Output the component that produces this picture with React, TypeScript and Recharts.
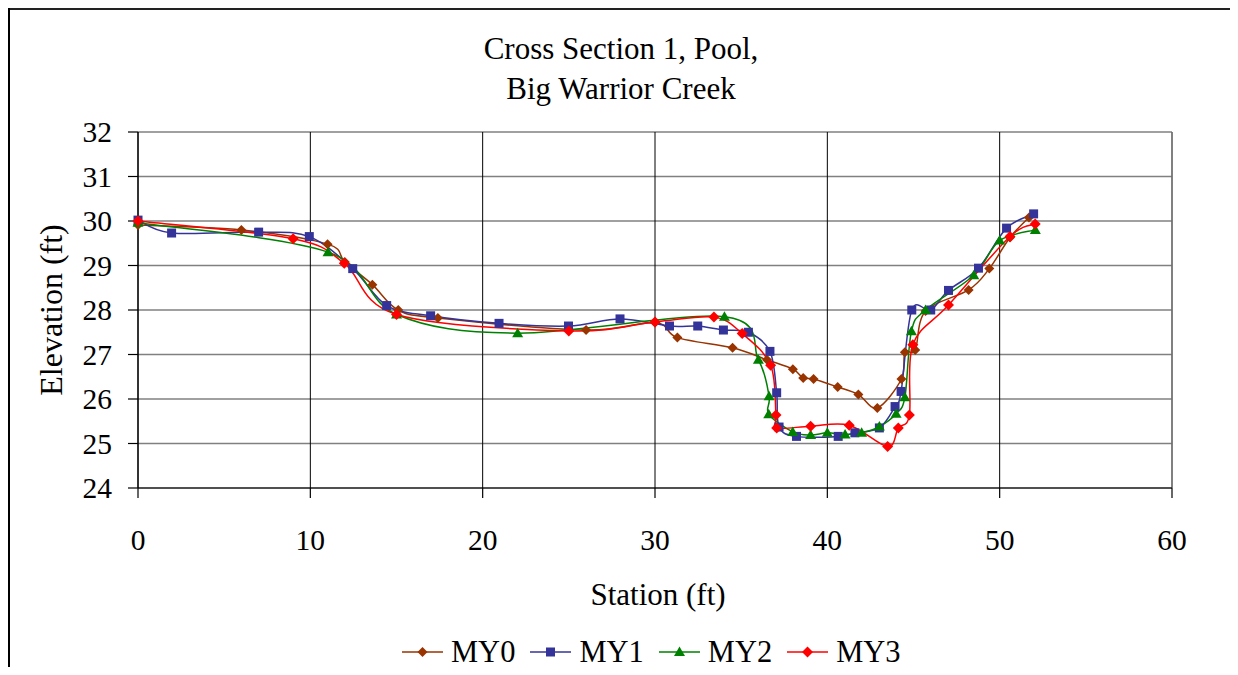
import React from "react"
import {
  LineChart,
  Line,
  XAxis,
  YAxis,
  CartesianGrid,
  ReferenceLine,
} from "recharts"

const FONT = "'Liberation Serif', 'Times New Roman', serif"

// survey stations (ft) and elevations (ft) per monitoring year
const my0X = [0, 6.0, 11.0, 12.0, 13.6, 15.1, 17.4, 26.0, 30.0, 31.3, 34.5, 36.5, 38.0, 38.6, 39.2, 40.6, 41.8, 42.9, 44.3, 44.5, 45.1, 45.7, 48.2, 49.4, 50.6, 51.7]
const my0Y = [29.91, 29.8, 29.48, 29.08, 28.57, 28.0, 27.82, 27.55, 27.72, 27.38, 27.15, 26.88, 26.67, 26.47, 26.45, 26.27, 26.1, 25.8, 26.45, 27.05, 27.1, 27.98, 28.45, 28.93, 29.63, 30.08]

const my1X = [0, 1.95, 7.0, 9.94, 12.46, 14.43, 16.98, 20.95, 24.98, 27.97, 30.84, 32.48, 33.97, 35.42, 36.67, 37.06, 37.2, 38.21, 40.63, 41.6, 43.02, 43.93, 44.28, 44.9, 46.0, 47.03, 48.77, 50.4, 51.97]
const my1Y = [30.02, 29.73, 29.75, 29.65, 28.93, 28.1, 27.87, 27.7, 27.64, 27.8, 27.64, 27.64, 27.55, 27.5, 27.07, 26.14, 25.37, 25.16, 25.16, 25.24, 25.35, 25.83, 26.17, 28.0, 28.0, 28.44, 28.94, 29.84, 30.16]

const my2X = [0, 11.03, 15.0, 22.03, 34.03, 36.0, 36.62, 36.6, 37.99, 39.03, 40.0, 41.03, 41.99, 43.02, 43.99, 44.5, 44.88, 45.7, 48.5, 50.0, 52.07]
const my2Y = [29.96, 29.3, 27.9, 27.48, 27.85, 26.88, 26.06, 25.66, 25.26, 25.19, 25.24, 25.2, 25.24, 25.38, 25.67, 26.04, 27.52, 28.0, 28.78, 29.56, 29.8]

const my3X = [0, 9.0, 11.97, 15.0, 25.0, 30.0, 33.42, 35.06, 36.71, 37.02, 37.06, 39.03, 41.27, 43.5, 44.12, 44.76, 44.96, 47.03, 50.6, 52.06]
const my3Y = [30.0, 29.6, 29.05, 27.9, 27.53, 27.73, 27.84, 27.47, 26.76, 25.64, 25.35, 25.39, 25.41, 24.93, 25.35, 25.64, 27.22, 28.11, 29.65, 29.93]

const xTicks = [0, 10, 20, 30, 40, 50, 60]
const yTicks = [24, 25, 26, 27, 28, 29, 30, 31, 32]

const toRows = (xs: number[], ys: number[]) => xs.map((x, i) => ({ x, y: ys[i] }))

// Excel-style smoothed line (Catmull-Rom through every point)
const excelSmooth = (context: any) => {
  let pts: number[][] = []
  return {
    areaStart() {},
    areaEnd() {},
    lineStart() {
      pts = []
    },
    point(x: number, y: number) {
      pts.push([+x, +y])
    },
    lineEnd() {
      if (!pts.length) return
      context.moveTo(pts[0][0], pts[0][1])
      for (let i = 0; i < pts.length - 1; i++) {
        const p0 = pts[i - 1] || pts[i]
        const p1 = pts[i]
        const p2 = pts[i + 1]
        const p3 = pts[i + 2] || p2
        context.bezierCurveTo(
          p1[0] + (p2[0] - p0[0]) / 6,
          p1[1] + (p2[1] - p0[1]) / 6,
          p2[0] - (p3[0] - p1[0]) / 6,
          p2[1] - (p3[1] - p1[1]) / 6,
          p2[0],
          p2[1]
        )
      }
    },
  }
}

type Shape = "diamond" | "square" | "triangle" | "bigDiamond"

const markerPath = (shape: Shape, cx: number, cy: number) => {
  if (shape === "square") return `M${cx - 4.5},${cy - 4.5}h9v9h-9z`
  if (shape === "triangle") return `M${cx},${cy - 5.5}L${cx + 5.5},${cy + 4}L${cx - 5.5},${cy + 4}z`
  const r = shape === "bigDiamond" ? 5.5 : 5
  return `M${cx},${cy - r}L${cx + r},${cy}L${cx},${cy + r}L${cx - r},${cy}z`
}

const SERIES = [
  { name: "MY0", xs: my0X, ys: my0Y, color: "#993300", shape: "diamond" as Shape },
  { name: "MY1", xs: my1X, ys: my1Y, color: "#333399", shape: "square" as Shape },
  { name: "MY2", xs: my2X, ys: my2Y, color: "#008000", shape: "triangle" as Shape },
  { name: "MY3", xs: my3X, ys: my3Y, color: "#FF0000", shape: "bigDiamond" as Shape },
]

const tickStyle = { fill: "#000", fontSize: 29.5, fontFamily: FONT }

const textBase = { position: "absolute" as const, fontFamily: FONT, color: "#000", whiteSpace: "nowrap" as const }

export default function App() {
  return (
    <div style={{ position: "relative", width: 1230, height: 659, background: "#fff" }}>
      <LineChart width={1230} height={659} margin={{ top: 124, right: 66, bottom: 119, left: 50 }}>
        <CartesianGrid horizontal vertical={false} stroke="#808080" strokeWidth={1.5} />
        <CartesianGrid horizontal={false} vertical stroke="#000" strokeWidth={1} />
        <ReferenceLine x={60} stroke="#808080" strokeWidth={1.5} />
        <XAxis
          dataKey="x"
          type="number"
          domain={[0, 60]}
          ticks={xTicks}
          allowDuplicatedCategory={false}
          height={60}
          tick={tickStyle}
          tickSize={10}
          tickMargin={31}
          axisLine={{ stroke: "#000", strokeWidth: 1.2 }}
          tickLine={{ stroke: "#000", strokeWidth: 1.2 }}
        />
        <YAxis
          type="number"
          domain={[24, 32]}
          ticks={yTicks}
          width={80}
          tick={tickStyle}
          tickSize={10}
          tickMargin={16}
          axisLine={{ stroke: "#000", strokeWidth: 1.2 }}
          tickLine={{ stroke: "#000", strokeWidth: 1.2 }}
        />
        {SERIES.map((s) => (
          <Line
            key={s.name}
            name={s.name}
            data={toRows(s.xs, s.ys)}
            dataKey="y"
            type={excelSmooth as any}
            stroke={s.color}
            strokeWidth={1.5}
            isAnimationActive={false}
            activeDot={false}
            dot={(p: any) => (
              <path key={`${s.name}-${p.index}`} d={markerPath(s.shape, p.cx, p.cy)} fill={s.color} stroke="none" />
            )}
          />
        ))}
      </LineChart>
      {/* outer chart frame: only top and left edges are in view */}
      <div style={{ position: "absolute", left: 0, top: 0, width: 1230, height: 2, background: "#222", zIndex: 5 }} />
      <div style={{ position: "absolute", left: 0, top: 0, width: 1.5, height: 667, background: "#000", zIndex: 5 }} />
      <div style={{ ...textBase, left: 408, width: 410, top: 21, textAlign: "center", fontSize: 31, lineHeight: "40px" }}>
        Cross Section 1, Pool,
        <br />
        Big Warrior Creek
      </div>
      <div
        style={{
          ...textBase,
          left: 43,
          top: 302,
          fontSize: 32,
          transform: "translate(-50%, -50%) rotate(-90deg)",
        }}
      >
        Elevation (ft)
      </div>
      <div style={{ ...textBase, left: 650, top: 587, fontSize: 31, transform: "translate(-50%, -50%)" }}>
        Station (ft)
      </div>
      <div
        style={{
          ...textBase,
          left: 394,
          top: 629,
          height: 30,
          lineHeight: "30px",
          display: "flex",
          alignItems: "center",
          fontSize: 30.5,
        }}
      >
        {SERIES.map((s) => (
          <div key={s.name} style={{ display: "flex", alignItems: "center", marginRight: 15 }}>
            <svg width={41} height={20} style={{ marginRight: 8 }}>
              <line x1={0} y1={10} x2={41} y2={10} stroke={s.color} strokeWidth={1.5} />
              <path d={markerPath(s.shape, 20.5, 10)} fill={s.color} />
            </svg>
            <span>{s.name}</span>
          </div>
        ))}
      </div>
    </div>
  )
}
